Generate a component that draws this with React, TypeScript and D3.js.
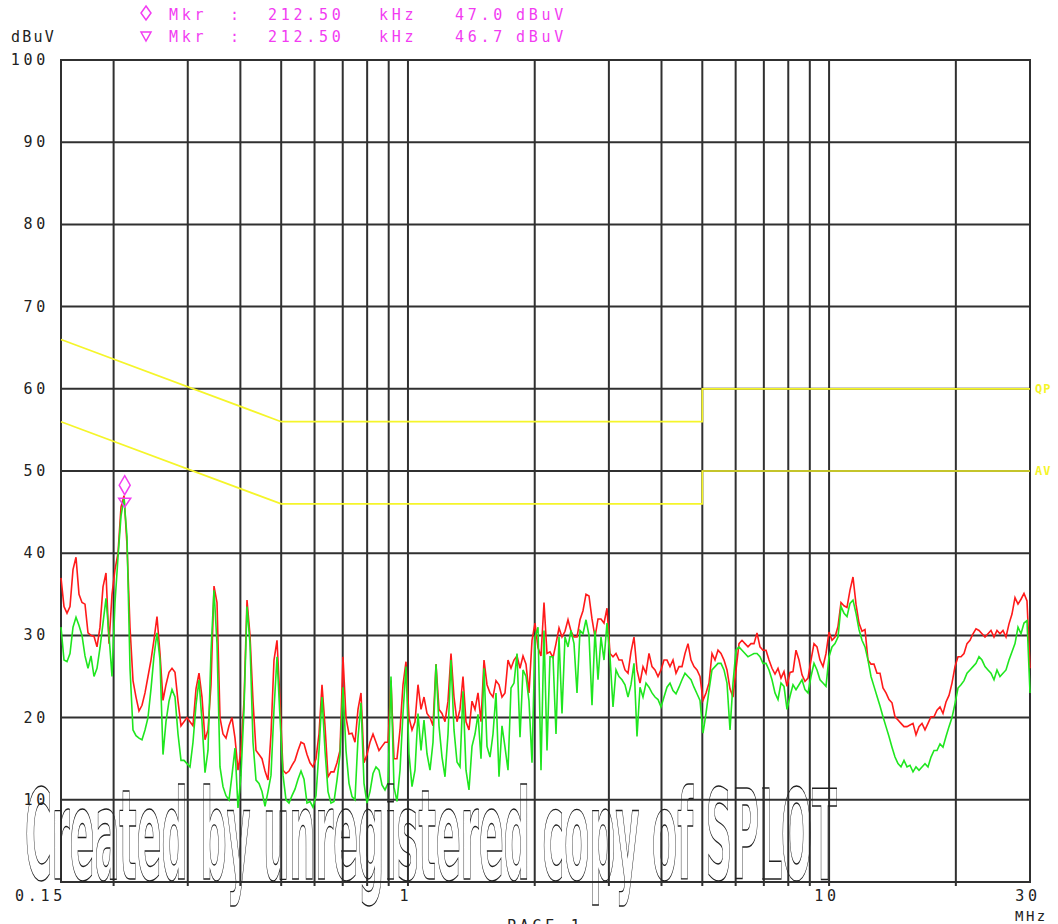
import React from "react";
import * as d3 from "d3";

const W = 1058;
const H = 924;

// ---- axes / grid data ----
const yTickValues = [100, 90, 80, 70, 60, 50, 40, 30, 20, 10];
const yGridValues = [10, 20, 30, 40, 50, 60, 70, 80, 90];
const xGridMHz = [0.2, 0.3, 0.4, 0.5, 0.6, 0.7, 0.8, 0.9, 1, 2, 3, 4, 5, 6, 7, 8, 9, 10, 20];
const xTickMHz = [0.15, 1, 10, 30];
const xTickText = ["0.15", "1", "10", "30"];

// ---- limit lines (EN55022 class B) ----
const limitFreq = [0.15, 0.5, 5, 5, 30];
const qpLimit = [66, 56, 56, 60, 60];
const avLimit = [56, 46, 46, 50, 50];

// ---- sweep ----
const sweepStartMHz = 0.15;
const sweepStopMHz = 30;

// Peak detector trace (red), dBuV
const peakTrace = [
  37, 33.5, 32.7, 33.5, 38, 39.5, 35, 34, 33.8, 30.3,
  30, 29.9, 28.6, 31, 35.9, 37.6, 29, 35, 38, 40,
  45.6, 47.0, 41, 31,
  24.5, 22.5, 20.8, 21.5, 23, 25, 27, 29.5, 32.3, 27.8,
  22.1, 24, 25.5, 26, 25.5, 22, 19, 19.5, 20, 19.5,
  19, 23.5, 25.4, 22.5, 17.3, 18.5, 24, 36, 34, 20,
  18, 17.5, 19, 20, 17.5, 13.6, 16, 22, 34.3, 30,
  22, 16, 15.5, 15, 13.5, 12.4, 18, 27, 29.4, 22,
  13.6, 13.2, 13.5, 14.2, 14.8, 16, 17,
  16.8, 15.5, 14.5, 14, 15, 18, 24, 19, 12.8, 13.4,
  13.4, 14.5, 16, 27.4, 20, 18, 18.1, 17, 21, 23,
  14.5, 15.5, 17, 18, 17, 16, 16.5, 17, 17, 24.5,
  15, 15, 18.5, 24, 26.8, 20, 18.5, 19.5, 24, 21,
  22.5, 20.5, 20, 19, 26.5, 21, 20.5, 19.5, 22, 27.8,
  22.5, 19.5, 21, 25, 19.5, 18.5, 22, 21, 23, 19.5,
  27, 24, 23, 22.5, 24.5, 24, 22.5, 23, 27, 26,
  27, 27.5, 26, 27.5, 26.5, 23, 29.4, 31.5,
  28.5, 27.5, 34, 27.8, 28, 27.3, 29, 30.9, 29.8, 30.5,
  31.9, 30.5, 29.8, 29.8, 31.9, 33, 35, 34.8, 32, 29.8,
  32, 32, 31.5, 33.3, 27.8, 27.4, 27.8, 27, 27, 25.8,
  25.4, 28, 29.8, 25.8, 24.2, 26.2, 25.4, 27.8, 26.2, 25.8,
  25, 25.8, 27, 27, 26.2, 27, 25.4, 26.2, 26.2, 27.8,
  29, 27, 26.2, 25.8, 25, 22.1, 23, 24.2, 27.8, 27,
  28.2, 27.8, 27, 25.8, 23.5, 22.5, 25.8, 29, 29.4, 29,
  28.6, 29, 29, 30.3, 28.6, 28.2, 28.2, 27, 26, 25.3,
  26,
  24.8, 25.6, 23.8, 25.5, 25.6, 28.2, 27, 25.2, 24.4, 24.8,
  27, 29, 28.6, 27, 26.2, 27.8, 30.4, 29.4, 29.8, 31.1,
  34, 33.6, 33.4, 35.5, 37.1, 33.8, 31.5, 30.5, 30.7, 27,
  26.5, 26.5, 25.4, 25.4, 23.6, 23, 22.2, 21.8, 20.1, 19.7,
  19.3, 18.9, 18.9, 19.1, 19.3, 17.9, 18.9, 19.3, 18.5, 19.3,
  20.1, 20.1, 20.9, 21.3, 20.5, 21.9, 22.7, 24.2, 26.2, 27.4,
  27.4, 27.8, 29, 29.4, 30.2, 30.8, 30.6, 30.2, 29.8, 30.2,
  30.6, 29.8, 30.6, 30.2, 30.6, 29.8, 31.4, 32.6, 34.6, 33.8,
  34.4, 35.1, 34.2, 26,
];

// Average detector trace (green), dBuV
const avgTrace = [
  31, 27, 26.8, 27.8, 31, 32.2, 31.2, 30, 27.5, 26,
  27.5, 25, 26, 28.5, 31.5, 34.5, 30, 25, 34, 39.5,
  44.5, 46.7, 42, 26,
  18.5, 17.8, 17.5, 17.3, 18.5, 20, 23.5, 27.5, 30.3, 27,
  15.5, 19.5, 22, 23.4, 22.5, 18, 14.8, 14.8, 14.4, 14,
  17, 21.5, 24.6, 19.5, 13.3, 16, 28, 35.5, 29, 14,
  11.6, 10.5, 10, 13, 16.3, 9, 13, 21, 33.5, 29,
  17, 12.4, 12, 11, 9.2, 11, 13, 21, 27.4, 20,
  13, 10, 9.6, 10.5, 11.3, 12.5, 13.5,
  12.5, 9.6, 9.8, 9.1, 10.5, 16, 22.5, 16, 11, 9.6,
  9.8, 12.4, 15.5, 23.7, 16, 12, 10.4, 10, 17.5, 21.8,
  12, 9.6, 11, 13.2, 14, 13.6, 11.8, 11.2, 12, 25,
  11.5, 9.8, 13.6, 20.5, 26.2, 15.6, 11.6, 13.6, 20.5, 16,
  19.7, 15.6, 13.6, 17, 26.5, 19, 15.2, 12.8, 18, 27,
  18.5, 14.6, 14, 23.2, 13.6, 11.2, 16.5, 18, 20.4, 15,
  26, 16.5, 15.2, 18, 23, 12.8, 19, 16.4, 13.6, 23.6,
  24.2, 27.8, 17.6, 25.8, 25, 22, 14.5, 29.8,
  31, 13.6, 30.6, 16, 27.4, 27.4, 18, 29.8, 20.5, 29.8,
  28.6, 30.6, 29, 23, 30.6, 30.2, 31.9, 30, 21.5, 30.6,
  24.6, 29.8, 27, 31.5, 27.4, 21.3, 25.8, 25, 24.6, 24,
  22.5, 24, 26.6, 17.7, 23.7, 22.5, 24.2, 23.7, 23, 22.5,
  22.2, 21.3, 22.5, 23.7, 24.2, 23.3, 22.9, 23.7, 24.6, 25.4,
  25, 24.6, 23.7, 22.9, 22.1, 18.1, 20.5, 23.3, 25.8, 26.2,
  26.6, 26.6, 25.8, 24.2, 18.5, 24.2, 28.2, 28.6, 28.2, 27.8,
  27.4, 27.6, 27.8, 27.8, 27.4, 26.6, 26.6, 25.8, 24.6, 23,
  22.2,
  24.2, 23.8, 21, 22.6, 24, 23.4, 24, 24.6, 23.4, 23,
  25, 26.6, 25.8, 24.6, 24.2, 23.8, 27.4, 28.6, 29, 29.8,
  33.5, 32.7, 32.3, 33.9, 34.3, 32.7, 30.7, 29.4, 28.6, 27,
  25, 23.8, 22.6, 21.4, 20.1, 18.9, 17.7, 16.4, 15.2, 14.4,
  14, 14.8, 14, 14.2, 13.4, 14, 13.6, 14, 14.4, 14,
  15.2, 16, 16, 16.8, 16.4, 17.7, 18.9, 20, 21.7, 23.6,
  24, 24.5, 25.4, 25.8, 26.2, 26.6, 27.4, 27, 26.2, 25.8,
  25.4, 24.6, 25.8, 25, 25.4, 25.8, 27, 28, 29, 31,
  30.2, 31.5, 31.8, 23,
];

// markers
const markerFreqMHz = 0.2125;
const markerPeak = 47.0;
const markerAvg = 46.7;
const headerRows = [
  { sym: "diamond", freq: "212.50", level: "47.0" },
  { sym: "triangle", freq: "212.50", level: "46.7" },
];

const MONO = "'DejaVu Sans Mono', 'Liberation Mono', monospace";
const MAGENTA = "#f23cf2";
const YELLOW = "#f5f52a";
const GRID = "#303030";

export default function App() {
  const x = d3.scaleLog().domain([sweepStartMHz, sweepStopMHz]).range([61, 1030]);
  const y = d3.scaleLinear().domain([0, 100]).range([882, 60]);

  const n = peakTrace.length;
  const sweepFreq = d3.range(n).map(
    (i) => sweepStartMHz * Math.pow(sweepStopMHz / sweepStartMHz, i / (n - 1))
  );

  const line = d3
    .line<[number, number]>()
    .x((d) => x(d[0]))
    .y((d) => y(d[1]));

  const peakPath = line(sweepFreq.map((f, i) => [f, peakTrace[i]]));
  const avgPath = line(sweepFreq.map((f, i) => [f, avgTrace[i]]));
  const qpPath = line(limitFreq.map((f, i) => [f, qpLimit[i]]));
  const avPath = line(limitFreq.map((f, i) => [f, avLimit[i]]));

  const [x0, x1] = x.range();
  const [yb, yt] = y.range();

  const mx = x(markerFreqMHz);
  const myP = y(markerPeak);
  const myA = y(markerAvg);

  const diamond = (cx: number, bottom: number, w: number, h: number) =>
    `M${cx},${bottom - h} L${cx + w / 2},${bottom - h / 2} L${cx},${bottom} L${cx - w / 2},${bottom - h / 2} Z`;
  const tri = (cx: number, top: number, w: number, h: number) =>
    `M${cx - w / 2},${top} L${cx + w / 2},${top} L${cx},${top + h} Z`;

  return (
    <svg
      width={W}
      height={H}
      style={{ position: "absolute", left: 0, top: 0, background: "#fff" }}
    >
      <rect x={0} y={0} width={W} height={H} fill="#fff" />

      {/* header */}
      {headerRows.map((r, i) => {
        const by = 20 + i * 22;
        return (
          <g key={i} fill={MAGENTA} fontFamily={MONO} fontSize={15} style={{ letterSpacing: "3.7px" }}>
            <path
              d={r.sym === "diamond" ? diamond(146, by, 10, 14) : tri(146, by - 10, 10, 9)}
              fill="none"
              stroke={MAGENTA}
              strokeWidth={1.5}
            />
            <text x={169} y={by}>Mkr</text>
            <text x={230} y={by}>:</text>
            <text x={268} y={by}>{r.freq}</text>
            <text x={379} y={by}>kHz</text>
            <text x={455} y={by}>{r.level}</text>
            <text x={516} y={by}>dBuV</text>
          </g>
        );
      })}

      <text x={11} y={42} fontFamily={MONO} fontSize={15} fill="#222" style={{ letterSpacing: "2.2px" }}>
        dBuV
      </text>

      {/* horizontal grid */}
      {yGridValues.map((v) => (
        <line key={"h" + v} x1={x0} x2={x1} y1={y(v)} y2={y(v)} stroke={GRID} strokeWidth={2} />
      ))}
      {/* vertical grid */}
      {xGridMHz.map((f) => (
        <line key={"v" + f} x1={x(f)} x2={x(f)} y1={yt} y2={yb + 4} stroke={GRID} strokeWidth={2} />
      ))}
      <rect x={x0} y={yt} width={x1 - x0} height={yb - yt} fill="none" stroke={GRID} strokeWidth={2} />

      {/* y labels */}
      {yTickValues.map((v) => (
        <text
          key={"yl" + v}
          x={49}
          y={y(v) + 5}
          textAnchor="end"
          fontFamily={MONO}
          fontSize={15}
          fill="#222"
          style={{ letterSpacing: "3.7px" }}
        >
          {String(v)}
        </text>
      ))}

      {/* x labels */}
      {xTickMHz.map((f, i) => (
        <text
          key={"xl" + f}
          x={i === 0 ? x(f) + 5 : x(f) - 2}
          y={901}
          textAnchor={i === 0 ? "end" : "middle"}
          fontFamily={MONO}
          fontSize={15}
          fill="#222"
          style={{ letterSpacing: "3.7px" }}
        >
          {xTickText[i]}
        </text>
      ))}
      <text x={1015} y={921} fontFamily={MONO} fontSize={14} fill="#222" style={{ letterSpacing: "2.5px" }}>
        MHz
      </text>
      <text x={507} y={931} fontFamily={MONO} fontSize={15} fill="#222" style={{ letterSpacing: "3.7px" }}>
        PAGE 1
      </text>

      {/* limits */}
      <path d={qpPath || ""} fill="none" stroke={YELLOW} strokeWidth={1.7} />
      <path d={avPath || ""} fill="none" stroke={YELLOW} strokeWidth={1.7} />
      <text x={1035} y={y(qpLimit[4]) + 4} fontFamily={MONO} fontSize={12} fontWeight="bold" fill={YELLOW} style={{ letterSpacing: "1px" }}>
        QP
      </text>
      <text x={1035} y={y(avLimit[4]) + 4} fontFamily={MONO} fontSize={12} fontWeight="bold" fill={YELLOW} style={{ letterSpacing: "1px" }}>
        AV
      </text>

      {/* traces */}
      <path d={peakPath || ""} fill="none" stroke="#ff1a1a" strokeWidth={1.6} strokeLinejoin="miter" />
      <path d={avgPath || ""} fill="none" stroke="#1fe61f" strokeWidth={1.6} strokeLinejoin="miter" />

      {/* markers */}
      <path d={diamond(mx, myP - 1, 11, 19)} fill="none" stroke={MAGENTA} strokeWidth={1.5} />
      <path d={tri(mx, myA, 12, 9)} fill="none" stroke={MAGENTA} strokeWidth={1.5} />

      {/* watermark */}
      <text
        x={25}
        y={879}
        fontFamily="'DejaVu Sans', sans-serif"
        fontWeight="bold"
        fontSize={124}
        textLength={812}
        lengthAdjust="spacingAndGlyphs"
        fill="none"
        stroke="#222"
        strokeWidth={1.4}
      >
        Created by unregistered copy of SPLOT
      </text>
    </svg>
  );
}
